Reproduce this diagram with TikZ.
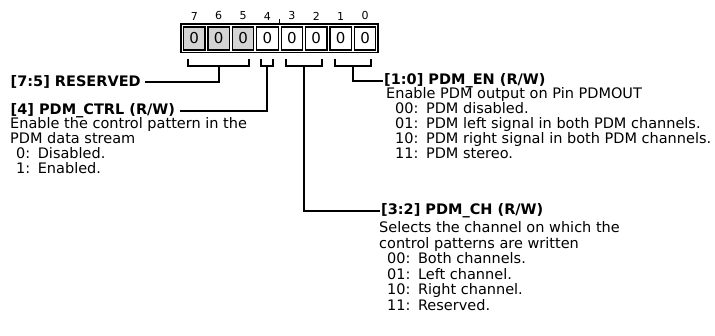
\documentclass[tikz,border=0pt]{standalone}
\usepackage{fontspec}
\setmainfont{DejaVu Sans}
\usetikzlibrary{calc}
\definecolor{rsvgray}{RGB}{212,212,212}
\begin{document}
\begin{tikzpicture}[x=1pt,y=1pt,
  cellbox/.style={draw, line width=1.2pt, minimum width=21.5pt, minimum height=23pt, inner sep=0pt, font=\fontsize{15}{15}\selectfont},
  rsvbox/.style={cellbox, fill=rsvgray},
  bitnum/.style={inner sep=0pt, font=\fontsize{11}{11}\selectfont},
  hdr/.style={inner sep=0pt, anchor=base west, font=\bfseries\fontsize{14.5}{14.5}\selectfont},
  desc/.style={inner sep=0pt, anchor=base west, align=left, font=\fontsize{14.5}{15}\selectfont},
  wire/.style={line width=2pt},
  frame/.style={line width=1.8pt},
]
\useasboundingbox (0,0) rectangle (715,-336);
\fill[white] (0,0) rectangle (715,-336);
% register frame
\draw[frame] (181,-24) rectangle (378,-52.5);
% cells
\node[rsvbox]  (c7) at (194.25,-38.5) {0};
\node[rsvbox]  (c6) at (218.65,-38.5) {0};
\node[rsvbox]  (c5) at (243.05,-38.5) {0};
\node[cellbox] (c4) at (267.45,-38.5) {0};
\node[cellbox] (c3) at (291.85,-38.5) {0};
\node[cellbox] (c2) at (316.25,-38.5) {0};
\node[cellbox] (c1) at (340.65,-38.5) {0};
\node[cellbox] (c0) at (365.05,-38.5) {0};
% bit numbers
\foreach \b in {7,6,5,4,3,2,1,0}{
  \node[bitnum] (n\b) at (c\b |- 0,-16) {\b};
}
% field separator tick between bit 4 and bit 3
\coordinate (tk) at ($(c4.north east)!0.5!(c3.north west)$);
\draw[line width=1.4pt] (tk |- 0,-24) -- (tk |- 0,-19.5);
% headers
\node[hdr] (h75) at (10.5,-86.5) {[7:5] RESERVED};
\node[hdr] (h4)  at (10.5,-115) {[4] PDM\_CTRL (R/W)};
\node[hdr] (h10) at (384,-84.5) {[1:0] PDM\_EN (R/W)};
\node[hdr] (h32) at (381,-214.5) {[3:2] PDM\_CH (R/W)};
% descriptions (anchor = baseline of the last line)
\node[desc] (d4) at (10,-173.5) {Enable the control pattern in the\\PDM data stream\\
  \hspace*{6pt}0:\hspace{7.5pt}Disabled.\\
  \hspace*{6pt}1:\hspace{7.5pt}Enabled.};
\node[desc] (d10) at (386,-158.5) {Enable PDM output on Pin PDMOUT\\
  \hspace*{9pt}00:\hspace{7.5pt}PDM disabled.\\
  \hspace*{9pt}01:\hspace{7.5pt}PDM left signal in both PDM channels.\\
  \hspace*{9pt}10:\hspace{7.5pt}PDM right signal in both PDM channels.\\
  \hspace*{9pt}11:\hspace{7.5pt}PDM stereo.};
\node[desc, font=\fontsize{14.5}{15.6}\selectfont] (d32) at (379,-310.5) {Selects the channel on which the\\control patterns are written\\
  \hspace*{8pt}00:\hspace{7.5pt}Both channels.\\
  \hspace*{8pt}01:\hspace{7.5pt}Left channel.\\
  \hspace*{8pt}10:\hspace{7.5pt}Right channel.\\
  \hspace*{8pt}11:\hspace{7.5pt}Reserved.};
% brackets
\draw[wire] ($(c7.south)+(-6,-8)$) -- ++(0,-7) -- ($(c5.south)+(6,-15)$) -- ++(0,7);
\draw[wire] ($(c4.south)+(-6,-8)$) -- ++(0,-7) -- ($(c4.south)+(6,-15)$) -- ++(0,7);
\draw[wire] ($(c3.south)+(-6,-8)$) -- ++(0,-7) -- ($(c2.south)+(6,-15)$) -- ++(0,7);
\draw[wire] ($(c1.south)+(-6,-8)$) -- ++(0,-7) -- ($(c0.south)+(6,-15)$) -- ++(0,7);
% stems to labels
\draw[wire] ($(c6.south)+(0,-15)$) |- ([xshift=4pt]h75.east);
\draw[wire] ($(c4.south)+(0,-15)$) |- ([xshift=5pt]h4.east);
\draw[wire] ($($(c3.south)!0.5!(c2.south)$)+(0,-15)$) |- ([xshift=-1pt]h32.west);
\draw[wire] ($($(c1.south)!0.5!(c0.south)$)+(0,-15)$) |- ([xshift=-1pt]h10.west);
\end{tikzpicture}
\end{document}
